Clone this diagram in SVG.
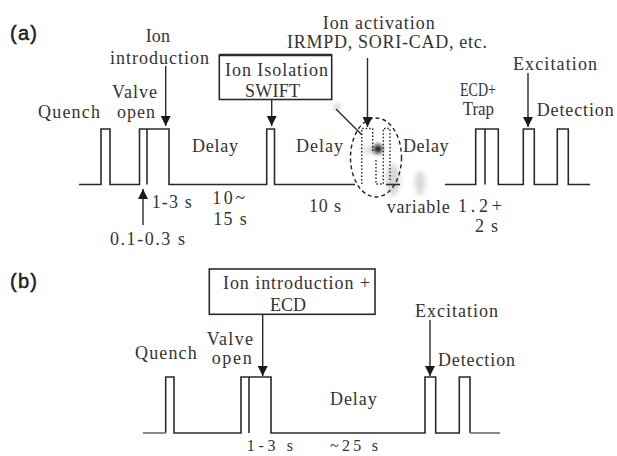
<svg xmlns="http://www.w3.org/2000/svg" width="617" height="456" viewBox="0 0 617 456">
<defs>
<style>
.t{font-family:"Liberation Serif","Times New Roman",serif;font-size:18px;fill:#333}
.lab{font-family:"Liberation Sans",Arial,sans-serif;font-size:20px;fill:#222;stroke:#222;stroke-width:0.5}
.w{fill:none;stroke:#2a2a2a;stroke-width:1.6}
.a{fill:none;stroke:#2a2a2a;stroke-width:1.4}
.box{fill:#fff;stroke:#2a2a2a;stroke-width:1.6}
.dot{fill:none;stroke:#222;stroke-width:1.4;stroke-dasharray:1.5 2}
.dash{fill:none;stroke:#222;stroke-width:1.4;stroke-dasharray:4 3}
</style>
<marker id="ah" viewBox="0 0 10 10" refX="10" refY="5" markerWidth="10" markerHeight="10" markerUnits="userSpaceOnUse" orient="auto">
<path d="M0,0 L10,5 L0,10 Z" fill="#1a1a1a"/>
</marker>
<filter id="bl" x="-1" y="-1" width="3" height="3"><feGaussianBlur stdDeviation="2.5"/></filter>
<filter id="bl2" x="-1" y="-1" width="3" height="3"><feGaussianBlur stdDeviation="2"/></filter>
</defs>
<rect width="617" height="456" fill="#fff"/>

<!-- smudges -->
<g id="smudges">
<ellipse cx="337" cy="107" rx="4" ry="3" fill="#bbb" filter="url(#bl)" opacity="0.7"/>
<ellipse cx="393" cy="180" rx="7" ry="16" fill="#ccc" filter="url(#bl)" opacity="0.8"/>
<ellipse cx="420" cy="183" rx="5" ry="12" fill="#ccc" filter="url(#bl)" opacity="0.8"/>
<ellipse cx="368" cy="150" rx="7" ry="5" fill="#ddd" filter="url(#bl)" opacity="0.8"/>
<circle cx="378" cy="149" r="4.5" fill="#111" filter="url(#bl2)"/>
</g>

<g id="panel-a-label"><text class="lab" x="10" y="40" textLength="27">(a)</text></g>
<g id="panel-b-label"><text class="lab" x="10" y="288" textLength="27">(b)</text></g>

<!-- waveforms -->
<g id="waveform-a">
<path class="w" d="M79,184.5 H101 V129 H110 V184.5 H139.5 V129 H169 V184.5 H266.7 V129 H274.5 V184.5 H355"/>
<path class="w" d="M147,129 V184.5"/>
<path class="w" d="M386,184.5 H400"/>
<path class="w" d="M445,184.5 H475.7 V129 H498.3 V184.5 H523.3 V129 H534.3 V184.5 H557.3 V129 H568.3 V184.5 H590"/>
<path class="w" d="M485,129 V184.5"/>
<path class="dot" d="M361.7,184 V128.5 H372.7 V153"/>
<path class="dot" d="M376,160 V184 H383.3 V128.5 H390 V182"/>
<ellipse class="dash" cx="376" cy="157.5" rx="25.5" ry="39.5"/>
</g>
<g id="waveform-b">
<path class="w" d="M165.7,433 V377 H174 V433 H241 V377 H271 V433 H425 V377 H435.7 V433 H459.3 V377 H470 V433"/>
<path class="w" d="M249,377 V433"/>
<path d="M143,433 H165.7 M470,433 H500" fill="none" stroke="#888" stroke-width="1.8"/>
</g>

<!-- nodes (a) -->
<g id="quench-a"><text class="t" x="38" y="118" textLength="62">Quench</text></g>
<g id="valve-a"><text class="t" x="112" y="98" textLength="45">Valve</text><text class="t" x="117" y="118" textLength="38">open</text></g>
<g id="ion-intro-a"><text class="t" x="145.7" y="42" textLength="24.3">Ion</text><text class="t" x="110" y="64" textLength="99">introduction</text></g>
<g id="isolation-a">
<rect class="box" x="219.3" y="55" width="112.4" height="44.5"/>
<path d="M219.3,55 H331.7" stroke="#2a2a2a" stroke-width="2.6"/>
<text class="t" x="225" y="76" textLength="103">Ion Isolation</text>
<text class="t" x="245" y="97" textLength="55">SWIFT</text>
</g>
<g id="activation-a"><text class="t" x="322.7" y="29" textLength="112">Ion activation</text><text class="t" x="287" y="48" textLength="200">IRMPD, SORI-CAD, etc.</text></g>
<g id="delay1-a"><text class="t" x="192" y="152" textLength="46">Delay</text></g>
<g id="delay2-a"><text class="t" x="296" y="152" textLength="47">Delay</text></g>
<g id="delay3-a"><text class="t" x="403" y="152" textLength="45.5">Delay</text></g>
<g id="ecd-a"><text class="t" x="460" y="95.5" textLength="36" lengthAdjust="spacingAndGlyphs">ECD+</text><text class="t" x="462.7" y="115" textLength="31.3" lengthAdjust="spacingAndGlyphs">Trap</text></g>
<g id="excitation-a"><text class="t" x="513" y="70" textLength="84">Excitation</text></g>
<g id="detection-a"><text class="t" x="536.7" y="116" textLength="77">Detection</text></g>
<g id="times-a">
<text class="t" x="151.7" y="208" textLength="40">1-3 s</text>
<text class="t" x="212.3" y="203.5" textLength="32.7">10~</text>
<text class="t" x="213.3" y="225" textLength="33.4">15 s</text>
<text class="t" x="110" y="245" textLength="75">0.1-0.3 s</text>
<text class="t" x="309" y="212" textLength="32">10 s</text>
<text class="t" x="386.7" y="213" textLength="63">variable</text>
<text class="t" x="458" y="212" textLength="44">1.2+</text>
<text class="t" x="475" y="232" textLength="23">2 s</text>
</g>

<!-- nodes (b) -->
<g id="quench-b"><text class="t" x="135" y="359" textLength="61.7">Quench</text></g>
<g id="valve-b"><text class="t" x="206.7" y="345" textLength="46.3">Valve</text><text class="t" x="211.7" y="364" textLength="40">open</text></g>
<g id="ion-intro-b">
<rect class="box" x="209.3" y="269" width="165.7" height="45.3"/>
<text class="t" x="223" y="289" textLength="147">Ion introduction +</text>
<text class="t" x="270" y="310.5" textLength="36">ECD</text>
</g>
<g id="delay-b"><text class="t" x="330" y="404.5" textLength="46.7">Delay</text></g>
<g id="excitation-b"><text class="t" x="415" y="317" textLength="83">Excitation</text></g>
<g id="detection-b"><text class="t" x="438" y="366" textLength="77">Detection</text></g>
<g id="times-b">
<text class="t" x="246.7" y="451" textLength="46.3" style="font-size:16px">1-3 s</text>
<text class="t" x="330" y="451" textLength="48" style="font-size:16px">~25 s</text>
</g>

<!-- connectors -->
<g id="connectors">
<path class="a" d="M165.7,66 V126" marker-end="url(#ah)"/>
<path class="a" d="M271.7,99.5 V126" marker-end="url(#ah)"/>
<path class="a" d="M367.5,58 V127" marker-end="url(#ah)"/>
<path class="a" d="M528,73 V127" marker-end="url(#ah)"/>
<path class="a" d="M143,225 V189" marker-end="url(#ah)"/>
<path class="a" d="M336,109 L362,135"/>
<path class="a" d="M262.7,314.3 V376" marker-end="url(#ah)"/>
<path class="a" d="M430,320 V376" marker-end="url(#ah)"/>
</g>
</svg>
